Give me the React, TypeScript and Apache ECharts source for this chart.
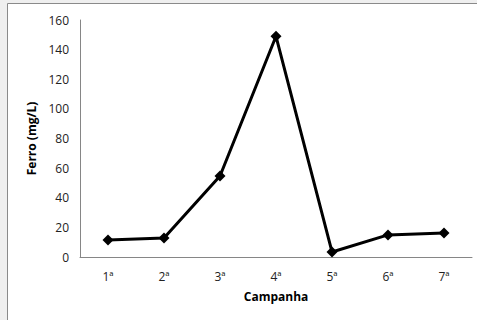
import React, { useEffect, useRef } from "react";
import * as echarts from "echarts";

const categories = ["1ª", "2ª", "3ª", "4ª", "5ª", "6ª", "7ª"];
const ferroValues = [11.5, 12.8, 54.7, 149, 3.4, 14.9, 16.2];
const yTicks = { min: 0, max: 160, interval: 20 };

export default function App() {
  const ref = useRef<HTMLDivElement>(null);
  useEffect(() => {
    if (!ref.current) return;
    const chart = echarts.init(ref.current, null, { renderer: "svg" });
    const font = "'Open Sans', 'Liberation Sans', sans-serif";
    chart.setOption({
      animation: false,
      backgroundColor: "#efefef",
      graphic: [
        {
          type: "rect",
          z: -10,
          shape: { x: 7.5, y: 3.5, width: 480, height: 330 },
          style: { fill: "#ffffff", stroke: "#8a8a8a", lineWidth: 1 },
        },
      ],
      grid: { left: 80, top: 20, right: 5, bottom: 63 },
      xAxis: {
        type: "category",
        data: categories,
        boundaryGap: true,
        name: "Campanha",
        nameLocation: "middle",
        nameGap: 33,
        nameTextStyle: { fontFamily: font, fontSize: 12, fontWeight: "bold", color: "#000" },
        axisLine: { lineStyle: { color: "#868686", width: 1 } },
        axisTick: { show: false },
        axisLabel: { fontFamily: font, fontSize: 12, color: "#222", margin: 13 },
      },
      yAxis: {
        type: "value",
        min: yTicks.min,
        max: yTicks.max,
        interval: yTicks.interval,
        name: "Ferro (mg/L)",
        nameLocation: "middle",
        nameGap: 42,
        nameRotate: 90,
        nameTextStyle: { fontFamily: font, fontSize: 12, fontWeight: "bold", color: "#000" },
        axisLine: { show: true, lineStyle: { color: "#868686", width: 1 } },
        axisTick: { show: false },
        splitLine: { show: false },
        axisLabel: { fontFamily: font, fontSize: 12, color: "#222", margin: 11 },
      },
      series: [
        {
          type: "line",
          data: ferroValues,
          symbol: "diamond",
          symbolSize: 11,
          lineStyle: { color: "#000", width: 3 },
          itemStyle: { color: "#000" },
        },
      ],
    });
    return () => chart.dispose();
  }, []);
  return (
    <div
      ref={ref}
      style={{ position: "fixed", left: 0, top: 0, width: 477, height: 320 }}
    />
  );
}
